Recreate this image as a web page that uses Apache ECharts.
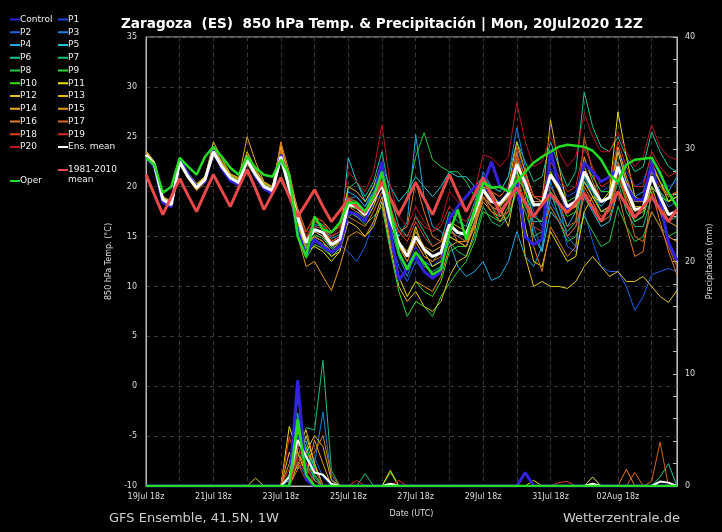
<!DOCTYPE html>
<html><head><meta charset="utf-8">
<script src="https://cdn.jsdelivr.net/npm/echarts@6/dist/echarts.min.js"></script>
<style>html,body{margin:0;padding:0;background:#000}#c{width:722px;height:532px}</style>
</head><body><div id="c"></div>
<script>
// ---- time axis (6-hourly steps from 19Jul2020 18z) ----
const startUTC = Date.UTC(2020, 6, 19, 18);
const monNames = ['Jan','Feb','Mar','Apr','May','Jun','Jul','Aug','Sep','Oct','Nov','Dec'];
const timeLabels = [];
for (let i = 0; i < 64; i++) {
  const d = new Date(startUTC + i * 6 * 3600 * 1000);
  const dd = String(d.getUTCDate()).padStart(2, '0');
  const hh = String(d.getUTCHours()).padStart(2, '0');
  timeLabels.push(dd + monNames[d.getUTCMonth()] + ' ' + hh + 'z');
}
const memberNames = ['Control','P1','P2','P3','P4','P5','P6','P7','P8','P9','P10','P11','P12','P13','P14','P15','P16','P17','P18','P19','P20'];
const memberColors = ['#3322dd','#1f45e6','#1e5fe6','#1e7fe0','#20a8e0','#1ec8d8','#1fbf9a','#1fbf7a','#22c84a','#2ed82e','#38e018','#e8e000','#e0c428','#e0b818','#e8a828','#e89820','#e07a1e','#d8661c','#e0421c','#d82a1c','#b81420'];

// ---- 850 hPa temperature (°C) ----
const tempControl = [23.0,22.0,18.4,18.0, 22.8,21.2,20.0,20.5, 23.6,21.8,20.6,20.2, 22.9,21.0,19.8,19.3, 23.2,20.0,15.5,13.2, 14.7,14.0,13.4,14.0, 17.5,17.2,16.5,19.0, 22.5,15.5,10.6,11.8, 13.0,11.5,10.8,11.5, 16.8,18.0,19.0,20.0, 20.2,22.5,20.0,19.5, 20.5,15.0,14.2,14.7, 23.7,20.0,17.7,18.5, 22.4,21.5,20.5,21.0, 21.7,20.0,18.7,18.7, 22.4,18.5,14.4,12.6];
const tempP1 = [23.4,22.3,18.9,18.3, 22.3,20.9,19.7,20.8, 23.3,22.1,21.0,20.5, 22.5,21.3,20.2,19.8, 23.3,20.5,17.5,14.8, 16.0,15.8,14.0,14.5, 18.5,18.0,17.0,18.2, 19.5,16.0,13.5,12.0, 14.0,12.5,12.0,12.8, 15.5,15.0,14.5,16.5, 19.0,18.0,17.5,18.8, 21.5,20.0,18.0,18.5, 21.8,20.5,19.0,19.5, 22.5,21.0,19.5,20.0, 24.0,21.5,20.0,20.5, 23.0,21.0,20.0,20.5];
const tempP2 = [23.1,22.0,18.5,18.0, 22.6,21.1,20.1,20.6, 23.4,21.9,20.8,20.3, 22.6,21.1,19.9,19.5, 22.8,19.8,16.5,14.0, 15.5,15.0,13.8,14.2, 13.5,12.5,14.0,16.5, 19.0,15.0,12.0,10.5, 12.5,11.5,11.0,12.0, 15.0,14.5,14.0,16.5, 20.0,19.0,18.5,19.5, 23.5,21.0,17.5,16.0, 18.5,17.0,14.0,13.5, 17.5,14.5,12.0,11.5, 11.5,10.0,7.6,9.0, 11.2,11.5,11.8,11.5];
const tempP3 = [23.3,22.4,18.8,18.4, 22.4,21.0,20.0,20.9, 23.7,22.2,21.1,20.6, 22.8,21.4,20.1,19.7, 23.1,19.5,16.0,13.5, 14.5,14.0,13.0,13.8, 18.8,19.0,18.0,20.0, 22.0,17.5,13.0,11.0, 13.5,12.5,12.0,12.5, 15.8,15.0,15.5,18.0, 21.5,20.0,19.5,21.0, 25.9,22.0,16.0,13.5, 20.5,18.0,15.0,14.0, 21.0,19.0,17.5,18.0, 23.5,20.5,18.0,18.0, 21.5,19.5,18.0,18.5];
const tempP4 = [23.5,22.5,19.0,18.5, 22.2,20.8,19.8,20.7, 23.2,21.8,20.7,20.2, 22.4,21.0,19.9,19.5, 22.7,19.6,16.8,14.5, 16.2,16.0,14.8,15.2, 19.5,19.0,18.0,19.5, 21.0,17.5,15.0,16.5, 25.2,19.0,16.0,15.5, 14.5,12.0,11.0,11.5, 12.5,10.6,11.0,12.5, 15.5,13.0,12.0,14.0, 19.0,18.0,16.0,17.5, 20.5,19.5,18.0,19.0, 22.5,20.5,19.0,19.5, 22.0,20.5,19.5,21.0];
const tempP5 = [23.2,22.1,18.6,18.1, 22.5,21.0,19.9,20.6, 23.5,22.0,20.9,20.4, 22.7,21.2,20.0,19.6, 23.4,20.2,17.0,14.0, 15.0,14.5,13.5,14.5, 22.9,20.5,18.5,20.0, 22.0,20.0,18.5,19.5, 21.0,20.0,19.0,20.0, 21.5,21.0,21.0,20.0, 21.0,19.5,17.0,17.5, 23.0,20.0,15.0,13.5, 17.5,16.5,15.0,16.0, 19.0,17.5,16.0,16.5, 19.5,18.0,16.5,17.0, 20.0,19.0,18.5,19.0];
const tempP6 = [23.0,22.0,18.6,18.2, 22.7,21.2,20.2,20.9, 23.8,22.3,21.0,20.5, 22.8,21.3,20.1,19.7, 22.9,19.7,16.2,14.2, 15.8,15.5,14.5,15.0, 19.8,20.5,19.0,20.5, 23.5,19.0,16.0,15.0, 17.0,15.5,14.0,14.5, 17.5,16.5,16.0,18.5, 21.0,20.0,19.5,21.0, 24.5,22.5,20.5,21.0, 24.5,22.0,20.0,21.5, 29.5,26.0,24.0,23.5, 25.0,23.0,21.5,22.0, 25.5,23.5,22.0,21.5];
const tempP7 = [23.1,22.2,18.8,18.2, 22.6,21.1,20.0,20.8, 23.4,22.0,20.8,20.3, 22.6,21.1,19.9,19.6, 23.2,20.0,15.8,13.0, 14.8,14.2,13.5,14.0, 17.0,17.5,16.8,18.5, 20.5,16.0,13.0,12.0, 13.5,12.0,11.5,12.0, 14.5,13.5,13.0,15.0, 18.0,16.5,16.0,17.0, 20.0,18.0,16.5,16.5, 19.5,17.0,15.5,16.5, 21.0,19.5,17.5,17.5, 20.5,17.5,16.0,16.0, 19.0,18.0,16.5,17.0];
const tempP8 = [23.3,22.3,18.7,18.1, 22.4,20.9,19.8,20.6, 23.3,21.9,20.8,20.2, 22.5,21.0,19.8,19.4, 22.6,19.4,16.4,14.6, 16.5,16.2,15.0,15.5, 18.8,18.5,17.5,19.5, 21.5,18.5,17.0,19.0, 23.0,25.4,22.7,22.0, 21.5,21.5,20.5,19.0, 19.5,18.0,16.5,17.0, 19.5,17.5,15.0,15.5, 18.0,16.5,14.5,15.0, 17.0,15.5,14.0,14.5, 18.0,16.0,14.5,15.0, 17.5,16.0,15.0,15.5];
const tempP9 = [23.2,22.1,18.6,18.1, 22.5,21.0,19.9,20.7, 23.5,22.1,21.0,20.5, 22.7,21.2,20.0,19.5, 23.0,19.8,16.0,13.8, 15.2,14.8,13.8,14.5, 17.5,17.0,16.2,17.0, 18.0,13.5,9.5,7.0, 8.5,8.0,7.0,9.0, 10.3,11.5,12.5,14.5, 17.5,17.0,16.5,18.0, 21.0,19.5,18.0,18.5, 21.5,20.0,18.5,19.0, 22.5,21.0,19.5,19.5, 22.0,19.5,17.5,18.0, 21.5,19.5,18.5,19.0];
const tempP10 = [23.0,21.9,18.4,18.0, 22.7,21.3,20.2,21.0, 23.6,22.2,21.1,20.6, 22.8,21.4,20.2,19.8, 23.1,19.6,15.2,12.8, 14.2,13.8,13.0,13.8, 18.0,17.8,17.0,18.5, 20.5,15.5,11.0,9.0, 10.5,9.5,9.0,10.5, 13.5,14.0,14.0,16.0, 19.0,18.0,17.5,18.5, 21.5,19.5,17.0,16.5, 19.5,18.5,17.0,17.5, 20.5,19.0,17.5,18.0, 21.0,18.5,16.5,17.0, 20.0,19.0,18.5,19.5];
const tempP11 = [23.6,22.5,19.0,18.5, 22.2,20.8,19.7,20.5, 23.3,21.8,20.6,20.1, 22.9,21.0,19.7,19.3, 23.5,20.3,16.5,13.5, 14.0,13.5,12.5,13.5, 17.5,17.0,16.5,18.0, 20.5,17.0,14.0,13.0, 16.0,13.5,12.0,12.5, 15.0,14.5,14.0,16.5, 19.5,18.5,18.0,19.0, 22.0,16.0,12.5,12.0, 15.5,14.0,12.5,13.0, 17.5,19.0,18.5,19.5, 27.5,23.0,19.0,18.5, 22.0,20.5,18.5,19.0];
const tempP12 = [23.4,22.2,18.8,18.3, 22.8,21.3,20.2,20.9, 24.5,22.8,21.3,20.9, 23.5,21.8,20.4,20.0, 23.8,20.5,17.0,14.5, 15.0,14.5,13.0,13.5, 16.5,16.0,15.0,16.0, 18.5,14.0,10.0,8.5, 9.5,8.0,7.5,8.5, 11.0,12.5,13.0,15.5, 20.0,19.5,18.0,16.0, 20.5,13.0,10.0,10.5, 10.0,10.0,9.8,10.5, 12.0,13.0,12.0,11.0, 11.5,10.5,10.5,11.0, 10.0,9.0,8.4,9.6];
const tempP13 = [23.1,22.0,18.6,18.0, 22.9,21.4,20.3,21.0, 24.0,22.5,21.2,20.7, 23.2,21.6,20.3,19.9, 24.0,20.8,17.8,15.5, 17.0,16.5,15.5,16.0, 20.0,19.5,18.5,20.0, 22.5,17.5,14.0,12.5, 14.5,13.0,12.5,13.5, 16.5,16.0,15.5,17.5, 20.5,19.5,19.0,20.0, 24.5,21.5,19.0,18.5, 26.7,22.0,18.0,18.0, 22.0,20.0,18.5,19.0, 23.5,20.5,18.0,18.0, 22.5,20.5,19.0,19.5];
const tempP14 = [23.6,22.4,18.9,18.4, 22.6,21.2,20.1,21.0, 23.9,22.4,21.2,20.8, 25.0,22.5,20.5,20.0, 24.2,21.0,17.2,14.6, 15.5,15.0,14.0,14.5, 18.5,18.3,17.5,19.0, 21.0,17.0,14.5,13.5, 15.5,14.0,13.5,14.0, 16.5,15.5,15.0,17.0, 19.5,18.5,18.0,19.0, 23.0,21.0,19.0,19.0, 21.0,19.5,17.5,18.0, 20.5,19.0,17.5,18.0, 21.5,19.0,17.0,17.5, 20.0,17.5,15.0,14.5];
const tempP15 = [23.3,22.2,18.7,18.2, 22.3,20.8,19.6,20.4, 23.2,21.8,20.6,20.1, 22.3,20.9,19.7,19.3, 24.0,20.5,15.0,12.0, 12.5,11.0,9.6,12.0, 15.0,15.5,15.0,16.5, 19.0,14.5,11.0,9.0, 10.5,10.0,9.5,11.0, 14.0,14.5,14.5,16.0, 18.5,17.5,17.0,18.5, 22.5,20.5,18.5,18.5, 21.5,19.5,17.5,18.0, 23.0,20.5,18.5,19.0, 24.0,21.0,18.5,18.5, 21.0,18.5,16.5,16.0];
const tempP16 = [23.2,22.3,18.8,18.3, 22.7,21.2,20.1,20.8, 23.6,22.0,20.9,20.4, 22.8,21.3,20.1,19.6, 24.5,21.5,17.5,15.0, 16.5,16.0,14.5,15.0, 17.0,16.5,16.0,17.5, 19.5,17.5,15.5,16.0, 20.5,17.5,15.0,14.5, 16.0,14.5,14.0,16.0, 19.0,17.5,16.5,17.5, 23.5,19.0,14.0,11.5, 16.0,14.5,13.0,14.0, 20.0,18.5,16.5,17.0, 19.5,16.0,13.0,13.5, 19.5,16.5,13.5,11.2];
const tempP17 = [23.4,22.2,18.7,18.2, 22.4,20.9,19.8,20.6, 23.4,22.0,20.9,20.4, 22.6,21.2,20.0,19.6, 23.6,20.5,16.5,14.0, 15.0,14.5,13.5,14.5, 18.0,17.5,17.0,18.5, 20.0,16.5,14.0,12.5, 14.5,13.0,12.5,13.0, 15.5,15.0,14.5,16.5, 19.0,18.0,17.5,18.5, 24.0,21.5,19.0,18.5, 20.0,18.5,16.0,16.5, 25.0,21.5,18.5,19.0, 22.5,18.5,15.0,14.5, 17.5,16.0,14.0,12.0];
const tempP18 = [23.0,22.1,18.6,18.1, 22.5,21.0,20.0,20.8, 23.4,22.1,20.9,20.3, 22.7,21.2,20.0,19.6, 23.3,20.2,17.0,14.8, 16.0,15.8,14.5,15.0, 18.5,18.0,17.0,18.5, 21.0,18.0,15.5,14.5, 16.5,15.0,14.0,14.5, 16.5,15.5,15.0,17.0, 19.5,18.0,17.0,17.5, 21.0,18.5,16.0,15.5, 18.0,16.5,15.0,16.0, 19.5,18.5,17.0,17.5, 21.0,19.0,17.5,18.0, 21.5,20.0,19.0,19.5];
const tempP19 = [23.3,22.3,18.8,18.3, 22.6,21.1,20.0,20.7, 23.5,22.1,21.0,20.5, 22.7,21.2,20.0,19.7, 23.1,19.9,17.5,15.5, 17.0,16.5,15.0,15.5, 19.0,18.5,17.5,19.0, 21.5,18.0,15.5,15.0, 17.0,16.0,15.5,16.0, 18.0,17.0,16.5,18.0, 20.5,19.5,19.0,20.0, 23.0,21.0,19.0,19.0, 22.5,21.0,19.5,20.0, 24.0,22.0,20.0,20.5, 24.5,22.0,20.0,20.0, 23.5,22.0,21.0,21.5];
const tempP20 = [23.2,22.1,18.7,18.2, 22.5,21.1,20.0,20.8, 23.5,22.0,20.9,20.4, 22.7,21.2,20.0,19.6, 23.2,20.0,17.0,15.0, 16.5,16.0,15.0,16.0, 21.5,20.5,19.5,21.5, 26.2,20.0,17.0,16.0, 18.0,16.5,15.5,16.5, 19.5,18.5,17.5,19.5, 23.2,22.9,22.0,23.0, 28.4,24.5,22.0,22.5, 25.0,23.5,22.0,23.0, 27.4,25.0,23.5,23.5, 25.5,23.5,22.0,23.0, 26.2,24.0,23.0,22.7];
const tempEnsMean = [23.2,22.2,18.7,18.2, 22.5,21.0,19.9,20.7, 23.5,22.0,20.9,20.4, 22.7,21.2,20.0,19.6, 23.0,19.9,16.9,14.4, 15.7,15.4,14.2,14.7, 18.2,18.0,17.2,18.7, 20.2,16.7,14.4,13.0, 15.0,13.7,13.0,13.4, 16.2,15.4,15.2,17.4, 19.7,18.5,18.3,19.3, 22.2,20.4,18.2,18.2, 21.2,19.9,18.0,18.5, 21.5,19.9,18.5,18.9, 22.0,19.7,17.7,17.9, 21.0,19.0,17.2,17.5];
const tempClimate = [21.2,19.2,17.2,19.0, 20.8,19.1,17.5,19.4, 21.2,19.6,18.0,19.9, 21.7,19.8,17.7,19.3, 20.9,19.0,17.0,18.3, 19.7,18.0,16.5,17.6, 18.7,18.0,17.4,18.9, 20.4,18.8,17.2,18.8, 20.4,18.8,17.2,19.2, 21.2,19.3,17.5,19.2, 20.9,19.1,17.4,18.6, 19.9,18.4,17.0,18.2, 19.3,18.3,17.4,18.4, 19.3,17.9,16.5,18.0, 19.5,18.2,16.9,18.0, 19.0,17.7,16.5,17.7];
const tempOper = [22.9,22.2,19.4,20.0, 22.9,22.0,21.2,23.0, 24.0,23.0,21.9,21.2, 23.0,21.9,21.2,21.0, 22.7,21.2,15.0,13.0, 17.0,15.7,15.4,16.4, 18.4,18.4,17.5,19.0, 21.5,17.7,13.4,11.7, 13.4,12.4,11.2,11.7, 15.4,17.7,14.7,17.7, 20.4,19.9,20.0,19.5, 20.5,21.5,22.4,23.0, 23.5,24.0,24.2,24.1, 24.0,23.6,22.7,21.2, 20.5,22.2,22.7,22.8, 22.9,21.4,19.4,18.0];

// ---- precipitation (mm), as [step index, amount]; all other steps are 0 ----
const precControl = [[18,9.4],[19,0.6],[45,1.2]];
const precP1 = [[17,0.8],[18,4.5],[19,2.0],[20,0.5]];
const precP2 = [[18,3.0],[19,1.5],[20,2.5],[21,0.8]];
const precP3 = [[18,2.0],[19,1.0],[20,2.0],[21,6.6],[22,0.6]];
const precP4 = [[18,6.5],[19,2.5],[20,1.0]];
const precP5 = [[17,0.5],[18,3.5],[19,4.0],[20,1.5]];
const precP6 = [[18,8.0],[19,3.0],[20,0.5],[61,0.8],[62,2.0]];
const precP7 = [[18,2.5],[19,5.2],[20,5.0],[21,11.2],[22,1.4],[26,1.1]];
const precP8 = [[17,1.0],[18,5.0],[19,3.5],[20,1.0],[53,0.8]];
const precP9 = [[18,6.0],[19,2.0],[20,0.8],[29,1.2]];
const precP10 = [[18,4.8],[19,3.2],[20,1.8]];
const precP11 = [[17,5.3],[18,3.0],[19,1.0],[29,1.4],[46,0.5]];
const precP12 = [[13,0.7],[17,3.0],[18,1.5],[19,4.5],[20,2.0]];
const precP13 = [[18,2.0],[19,3.0],[20,4.5],[21,3.5],[22,0.5]];
const precP14 = [[18,3.5],[19,5.0],[20,2.0],[53,0.8]];
const precP15 = [[17,2.0],[18,5.4],[19,1.0],[20,4.1],[21,2.0]];
const precP16 = [[18,1.5],[19,2.5],[20,3.0],[21,4.5],[22,1.0],[57,1.5]];
const precP17 = [[18,3.0],[19,1.5],[20,0.5],[58,1.2],[60,0.4],[61,3.9]];
const precP18 = [[17,4.4],[18,2.0],[19,0.5],[49,0.3],[50,0.4]];
const precP19 = [[17,1.5],[18,3.5],[19,2.0],[25,0.5],[30,0.5]];
const precP20 = [[18,2.5],[19,1.0],[20,1.5],[30,0.5]];
const precEnsMean = [[17,0.8],[18,4.1],[19,2.6],[20,1.2],[21,1.0],[22,0.2],[29,0.2],[53,0.2],[61,0.4],[62,0.3]];
const precOper = [[18,5.9],[19,1.0]];

const memberTemps = [tempControl,tempP1,tempP2,tempP3,tempP4,tempP5,tempP6,tempP7,tempP8,tempP9,tempP10,tempP11,tempP12,tempP13,tempP14,tempP15,tempP16,tempP17,tempP18,tempP19,tempP20];
const memberPrecs = [precControl,precP1,precP2,precP3,precP4,precP5,precP6,precP7,precP8,precP9,precP10,precP11,precP12,precP13,precP14,precP15,precP16,precP17,precP18,precP19,precP20];

function expand(pairs) {
  const a = timeLabels.map(() => 0);
  pairs.forEach(p => { a[p[0]] = p[1]; });
  return a;
}

const FONT = 'DejaVu Sans';
const series = [];
memberNames.forEach((n, i) => {
  series.push({ name: n, type: 'line', yAxisIndex: 0, data: memberTemps[i], showSymbol: false, symbol: 'none',
    lineStyle: { color: memberColors[i], width: i === 0 ? 3 : 1 }, itemStyle: { color: memberColors[i] }, z: i === 0 ? 3 : 2 });
});
memberNames.forEach((n, i) => {
  series.push({ name: n, type: 'line', yAxisIndex: 1, data: expand(memberPrecs[i]), showSymbol: false, symbol: 'none',
    lineStyle: { color: memberColors[i], width: i === 0 ? 3 : 1 }, itemStyle: { color: memberColors[i] }, z: i === 0 ? 3 : 2 });
});
series.push({ name: 'Ens. mean', type: 'line', yAxisIndex: 0, data: tempEnsMean, symbol: 'none', lineStyle: { color: '#ffffff', width: 3 }, z: 4 });
series.push({ name: 'Ens. mean', type: 'line', yAxisIndex: 1, data: expand(precEnsMean), symbol: 'none', lineStyle: { color: '#ffffff', width: 2 }, z: 4 });
series.push({ name: '1981-2010 mean', type: 'line', yAxisIndex: 0, data: tempClimate, symbol: 'none', lineStyle: { color: '#e84848', width: 3 }, z: 5 });
series.push({ name: 'Oper', type: 'line', yAxisIndex: 0, data: tempOper, symbol: 'none', lineStyle: { color: '#22dd22', width: 2.5 }, z: 6 });
series.push({ name: 'Oper', type: 'line', yAxisIndex: 1, data: expand(precOper), symbol: 'none', lineStyle: { color: '#22dd22', width: 2.5 }, z: 6 });

// ---- legend drawn as graphic (two columns) ----
const legendLeft = ['Control','P2','P4','P6','P8','P10','P12','P14','P16','P18','P20'];
const legendRight = ['P1','P3','P5','P7','P9','P11','P13','P15','P17','P19','Ens. mean'];
function colorOf(n) {
  const k = memberNames.indexOf(n);
  if (k >= 0) return memberColors[k];
  if (n === 'Ens. mean') return '#ffffff';
  if (n === 'Oper') return '#22dd22';
  return '#e84848';
}
const graphics = [];
function legendItem(name, label, x, y) {
  graphics.push({ type: 'line', shape: { x1: x, y1: y, x2: x + 10, y2: y }, style: { stroke: colorOf(name), lineWidth: 2 } });
  graphics.push({ type: 'text', x: x + 10, y: y, style: { text: label, fill: '#eeeeee', font: '9px "' + FONT + '"', verticalAlign: 'middle' } });
}
legendLeft.forEach((n, i) => legendItem(n, n, 10, 19.5 + i * 12.75));
legendRight.forEach((n, i) => legendItem(n, n, 58, 19.5 + i * 12.75));
graphics.push({ type: 'line', shape: { x1: 58, y1: 170, x2: 68, y2: 170 }, style: { stroke: '#e84848', lineWidth: 2 } });
graphics.push({ type: 'text', x: 68, y: 165, style: { text: '1981-2010\nmean', fill: '#eeeeee', font: '9px "' + FONT + '"', lineHeight: 10, verticalAlign: 'top' } });
legendItem('Oper', 'Oper', 10, 181);
graphics.push({ type: 'text', x: 109, y: 519, style: { text: 'GFS Ensemble, 41.5N, 1W', fill: '#cccccc', font: '13px "' + FONT + '"', verticalAlign: 'middle' } });
graphics.push({ type: 'text', x: 680, y: 519, style: { text: 'Wetterzentrale.de', fill: '#cccccc', font: '13px "' + FONT + '"', verticalAlign: 'middle', align: 'right' } });

const chart = echarts.init(document.getElementById('c'), null, { renderer: 'canvas' });
chart.setOption({
  backgroundColor: '#000000',
  animation: false,
  textStyle: { fontFamily: FONT },
  title: { text: 'Zaragoza  (ES)  850 hPa Temp. & Precipitación | Mon, 20Jul2020 12Z', left: 116, top: 12,
    textStyle: { color: '#ffffff', fontSize: 13.6, fontWeight: 'bold', fontFamily: FONT } },
  grid: { left: 146, right: 30, top: 37, bottom: 46, show: true, borderColor: '#bbbbbb', borderWidth: 1, backgroundColor: 'transparent' },
  xAxis: {
    type: 'category', data: timeLabels, boundaryGap: false,
    name: 'Date (UTC)', nameLocation: 'middle', nameGap: 24, nameTextStyle: { color: '#dddddd', fontSize: 8 },
    axisLine: { onZero: false, lineStyle: { color: '#bbbbbb' } }, axisTick: { show: false },
    axisLabel: { interval: 7, color: '#dddddd', fontSize: 8, margin: 7 },
    splitLine: { show: true, interval: 3, lineStyle: { color: '#3a3a3a', type: [4, 4] } }
  },
  yAxis: [
    { type: 'value', min: -10, max: 35, interval: 5, position: 'left',
      name: '850 hPa Temp. (°C)', nameLocation: 'middle', nameGap: 24, nameTextStyle: { color: '#dddddd', fontSize: 8 },
      axisLine: { show: true, onZero: false, lineStyle: { color: '#bbbbbb' } }, axisTick: { show: false },
      axisLabel: { color: '#dddddd', fontSize: 8, margin: 9 },
      splitLine: { show: true, lineStyle: { color: '#3a3a3a', type: [4, 4] } } },
    { type: 'value', min: 0, max: 40, interval: 10, position: 'right',
      name: 'Precipitación (mm)', nameLocation: 'middle', nameGap: 22, nameTextStyle: { color: '#dddddd', fontSize: 8 },
      axisLine: { show: true, onZero: false, lineStyle: { color: '#bbbbbb' } },
      axisTick: { show: true, inside: true, length: 4, lineStyle: { color: '#bbbbbb' } },
      minorTick: { show: true, splitNumber: 5, length: 4, lineStyle: { color: '#bbbbbb' } },
      axisLabel: { color: '#dddddd', fontSize: 8, margin: 8 },
      splitLine: { show: false } }
  ],
  graphic: graphics,
  series: series
});
</script></body></html>
